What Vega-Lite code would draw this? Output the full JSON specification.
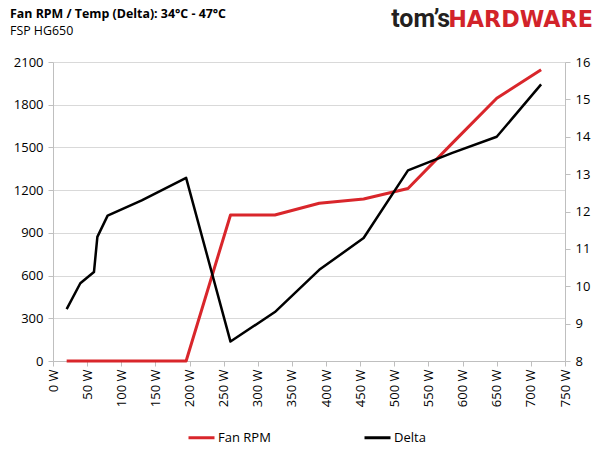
{
  "$schema": "https://vega.github.io/schema/vega-lite/v6.json",
  "width": 512,
  "height": 299,
  "autosize": {"type": "none"},
  "padding": {"left": 53, "top": 62, "right": 35, "bottom": 89},
  "background": "white",
  "config": {
    "font": "Open Sans",
    "view": {"stroke": null},
    "axis": {
      "labelColor": "#000000",
      "labelFontSize": 13,
      "domainColor": "#bfbfbf",
      "tickColor": "#bfbfbf",
      "tickSize": 5,
      "gridColor": "#d9d9d9",
      "gridWidth": 1,
      "title": null
    },
    "axisX": {
      "values": [0, 50, 100, 150, 200, 250, 300, 350, 400, 450, 500, 550, 600, 650, 700, 750],
      "labelAngle": -90,
      "labelExpr": "datum.value + ' W'",
      "labelOverlap": false,
      "grid": false,
      "labelPadding": 3
    }
  },
  "title": {
    "text": "Fan RPM / Temp (Delta): 34°C - 47°C",
    "subtitle": "FSP HG650",
    "anchor": "start",
    "frame": "group",
    "dx": -43,
    "offset": -30,
    "fontSize": 12.4,
    "fontWeight": "bold",
    "color": "#000000",
    "subtitleFontSize": 12.4,
    "subtitleColor": "#000000",
    "subtitlePadding": 4
  },
  "data": {
    "values": [
      {"watts": 20, "rpm": 0, "delta": 9.39},
      {"watts": 40, "rpm": 0, "delta": 10.08},
      {"watts": 60, "rpm": 0, "delta": 10.38},
      {"watts": 65, "rpm": 0, "delta": 11.32},
      {"watts": 80, "rpm": 0, "delta": 11.89},
      {"watts": 130, "rpm": 0, "delta": 12.3},
      {"watts": 195, "rpm": 0, "delta": 12.9},
      {"watts": 260, "rpm": 1025, "delta": 8.52},
      {"watts": 325, "rpm": 1025, "delta": 9.31},
      {"watts": 390, "rpm": 1108, "delta": 10.44},
      {"watts": 455, "rpm": 1138, "delta": 11.29},
      {"watts": 520, "rpm": 1212, "delta": 13.1},
      {"watts": 585, "rpm": 1530, "delta": 13.57},
      {"watts": 650, "rpm": 1845, "delta": 14.0},
      {"watts": 715, "rpm": 2045, "delta": 15.4}
    ]
  },
  "layer": [
    {
      "layer": [
        {
          "mark": {"type": "line", "strokeWidth": 3, "strokeJoin": "round"},
          "encoding": {
            "x": {
              "field": "watts",
              "type": "quantitative",
              "scale": {"domain": [0, 750], "nice": false}
            },
            "y": {
              "field": "rpm",
              "type": "quantitative",
              "scale": {"domain": [0, 2100], "nice": false},
              "axis": {
                "values": [0, 300, 600, 900, 1200, 1500, 1800, 2100],
                "format": "d",
                "grid": true,
                "labelPadding": 5
              }
            },
            "color": {
              "datum": "Fan RPM",
              "scale": {"domain": ["Fan RPM", "Delta"], "range": ["#d9262b", "#000000"]},
              "legend": {
                "title": null,
                "orient": "none",
                "direction": "horizontal",
                "legendX": 134,
                "legendY": 361,
                "symbolType": "stroke",
                "symbolStrokeWidth": 3,
                "symbolSize": 676,
                "labelFontSize": 13,
                "labelOffset": 2,
                "columnPadding": 87,
                "padding": 0
              }
            }
          }
        },
        {
          "data": {"values": [{"brand": "tom’s"}]},
          "mark": {
            "type": "text",
            "align": "right",
            "baseline": "alphabetic",
            "dx": -115,
            "dy": -35,
            "font": "Roboto",
            "fontSize": 25,
            "fontWeight": "bold",
            "color": "#231f20"
          },
          "encoding": {
            "x": {"datum": 750, "type": "quantitative"},
            "y": {"datum": 2100, "type": "quantitative"},
            "text": {"field": "brand"}
          }
        },
        {
          "data": {"values": [{"brand": "HARDWARE"}]},
          "mark": {
            "type": "text",
            "align": "right",
            "baseline": "alphabetic",
            "dx": 28,
            "dy": -35,
            "font": "DejaVu Sans",
            "fontSize": 22.3,
            "fontWeight": "bold",
            "color": "#d2232a"
          },
          "encoding": {
            "x": {"datum": 750, "type": "quantitative"},
            "y": {"datum": 2100, "type": "quantitative"},
            "text": {"field": "brand"}
          }
        }
      ]
    },
    {
      "mark": {"type": "line", "strokeWidth": 2.5, "strokeJoin": "round"},
      "encoding": {
        "x": {"field": "watts", "type": "quantitative"},
        "y": {
          "field": "delta",
          "type": "quantitative",
          "scale": {"domain": [8, 16], "nice": false},
          "axis": {
            "orient": "right",
            "values": [8, 9, 10, 11, 12, 13, 14, 15, 16],
            "grid": false,
            "labelPadding": 5
          }
        },
        "color": {"datum": "Delta"}
      }
    }
  ],
  "resolve": {"scale": {"y": "independent"}}
}
